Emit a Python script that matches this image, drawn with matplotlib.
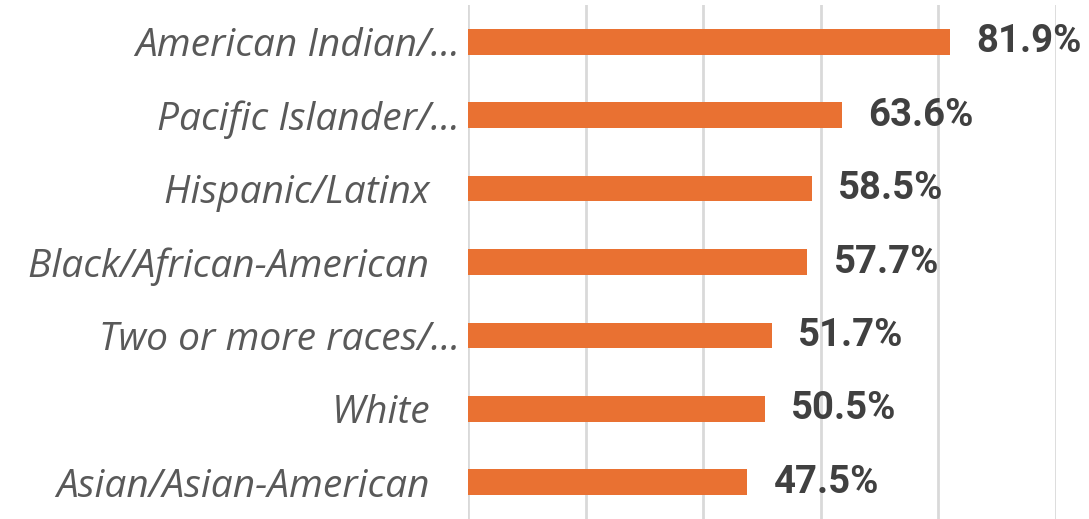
import matplotlib
matplotlib.use("Agg")
import matplotlib.pyplot as plt

grupos = ["American Indian/...", "Pacific Islander/...", "Hispanic/Latinx   ",
          "Black/African-American   ", "Two or more races/...", "White   ",
          "Asian/Asian-American   "]
valores = [81.9, 63.6, 58.5, 57.7, 51.7, 50.5, 47.5]
grade = [0, 20, 40, 60, 80, 100]

laranja = "#E97132"
cinza_grade = "#D9D9D9"

fig = plt.figure(figsize=(10.89, 5.19), dpi=100)
ax = fig.add_axes([468 / 1089, 0, (1056 - 468) / 1089, 1 - 5 / 519])

pos = list(range(len(grupos)))
ax.barh(pos, valores, height=0.35, color=laranja, zorder=3)

for y, v in zip(pos, valores):
    ax.annotate(f"{v:.1f}%", (v, y), xytext=(19, 0), textcoords="offset points",
                ha="left", va="center", fontsize=27.5, fontweight="bold",
                family="Roboto", color="#404040", annotation_clip=False)

ax.set_xlim(0, 100)
ax.set_ylim(len(grupos) - 0.5, -0.5)
ax.set_xticks(grade)
ax.set_xticklabels([])
ax.grid(axis="x", color=cinza_grade, linewidth=2, zorder=0)
ax.set_yticks(pos)
ax.set_yticklabels(grupos, fontsize=28, style="italic", family="Open Sans",
                   color="#595959")
ax.tick_params(length=0, pad=6)
for lado in ax.spines.values():
    lado.set_visible(False)

fig.savefig("out.png", dpi=100)
